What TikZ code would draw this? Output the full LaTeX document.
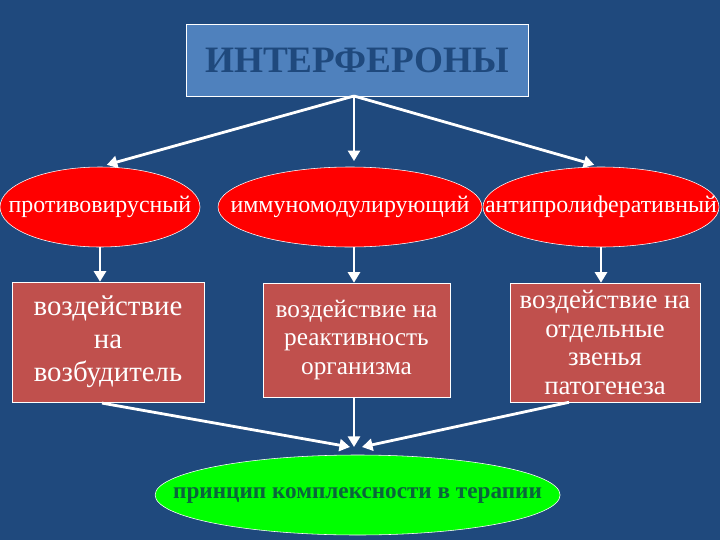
\documentclass[tikz,border=0pt]{standalone}
\usepackage{fontspec}
\setmainfont{Liberation Serif}
\usetikzlibrary{arrows.meta, positioning, shapes.geometric, calc}
\definecolor{bgblue}{RGB}{31,73,125}
\definecolor{titleblue}{RGB}{79,129,189}
\definecolor{boxred}{RGB}{192,80,77}
\definecolor{ovalred}{RGB}{255,0,0}
\definecolor{ovalgreen}{RGB}{0,255,0}
\definecolor{textgreen}{RGB}{10,100,60}

\tikzset{
  oval/.style={ellipse, draw=white, thin, fill=ovalred, inner sep=0pt, minimum height=2cm},
  ovaltext/.style={text=white, font=\fontsize{17}{20}\selectfont},
  effectbox/.style={draw=white, thin, fill=boxred, text=white, align=center, inner sep=0pt},
  flow/.style={white, line width=2pt, -{Triangle[width=8.5pt,length=7.5pt]}},
}

\begin{document}
\begin{tikzpicture}
    % Fondo
    \fill[bgblue] (0,0) rectangle (18,-13.5);
    \useasboundingbox (0,0) rectangle (18,-13.5);

    % Titolo
    \node[draw=white, thin, fill=titleblue, text=bgblue, minimum width=8.55cm, minimum height=1.8cm,
          font=\fontsize{26.5}{30}\selectfont\bfseries] (title) at (8.925,-1.5) {ИНТЕРФЕРОНЫ};

    % Ellissi delle azioni
    \node[oval, minimum width=5cm, label={[ovaltext]center:противовирусный}] (antiviral) at (2.5,-5.175) {};
    \node[oval, minimum width=6.6cm, label={[ovaltext]center:иммуномодулирующий}] (immuno) at (8.75,-5.175) {};
    \node[oval, minimum width=5.9cm, label={[ovaltext]center:антипролиферативный}] (antiprolif) at (15.025,-5.175) {};

    % Riquadri degli effetti
    \node[effectbox, minimum width=4.8cm, minimum height=3cm,
          font=\fontsize{20.5}{23.5}\selectfont] (effpath) at (2.7,-8.55)
          {воздействие\\на\\возбудитель};
    \node[effectbox, minimum width=4.675cm, minimum height=2.85cm,
          font=\fontsize{18}{20}\selectfont] (effreact) at (8.9125,-8.5)
          {воздействие на\\реактивность\\организма};
    \node[effectbox, minimum width=4.75cm, minimum height=2.975cm,
          font=\fontsize{19}{20.4}\selectfont] (efflink) at (15.125,-8.5625)
          {воздействие на\\отдельные\\звенья\\патогенеза};

    % Principio
    \node[ellipse, draw=white, thin, fill=ovalgreen, inner sep=0pt,
          minimum width=10.125cm, minimum height=2cm,
          label={[text=textgreen, font=\fontsize{16.5}{20}\selectfont\bfseries]center:принцип комплексности в терапии}]
          (principle) at (8.94,-12.375) {};

    % Frecce dal titolo
    \coordinate (top) at (8.85,-2.4);
    \draw[flow, shorten >=5pt] (top) -- (antiviral.north);
    \draw[flow, shorten >=4pt] (top) -- (top |- immuno.north);
    \draw[flow, shorten >=5pt] (top) -- (antiprolif.north);

    % Frecce verso i riquadri
    \draw[flow] (antiviral.south) -- (antiviral.south |- effpath.north);
    \draw[flow] (top |- immuno.south) -- (top |- effreact.north);
    \draw[flow] (antiprolif.south) -- (antiprolif.south |- efflink.north);

    % Frecce verso il principio
    \coordinate (meet) at (8.85,-11.175);
    \draw[flow] ($(effpath.south)+(-0.15,-0.02)$) -- ($(meet)+(-0.1,0)$);
    \draw[flow] (top |- effreact.south) -- (meet);
    \draw[flow] ($(efflink.south)+(-0.9,0)$) -- ($(meet)+(0.2,0)$);
\end{tikzpicture}
\end{document}
